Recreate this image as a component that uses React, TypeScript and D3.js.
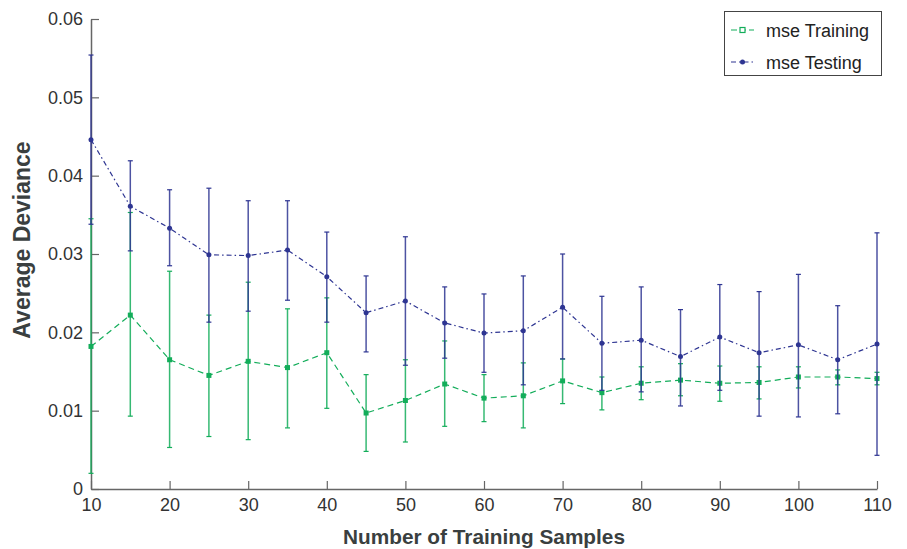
import React, { useEffect, useRef } from "react";
import * as d3 from "d3";

const samples = [10, 15, 20, 25, 30, 35, 40, 45, 50, 55, 60, 65, 70, 75, 80, 85, 90, 95, 100, 105, 110];

const trainMean = [0.0182, 0.0222, 0.0165, 0.0145, 0.0163, 0.0155, 0.0174, 0.0097, 0.0113, 0.0134, 0.0116, 0.0119, 0.0138, 0.0123, 0.0135, 0.0139, 0.0135, 0.0136, 0.0143, 0.0143, 0.0141];
const trainHigh = [0.0345, 0.0353, 0.0278, 0.0222, 0.0264, 0.0230, 0.0244, 0.0146, 0.0165, 0.0189, 0.0146, 0.0161, 0.0166, 0.0143, 0.0156, 0.0160, 0.0157, 0.0156, 0.0156, 0.0152, 0.0149];
const trainLow = [0.0020, 0.0093, 0.0053, 0.0067, 0.0063, 0.0078, 0.0103, 0.0048, 0.0060, 0.0080, 0.0086, 0.0078, 0.0109, 0.0101, 0.0114, 0.0119, 0.0112, 0.0115, 0.0129, 0.0133, 0.0133];

const testMean = [0.0446, 0.0361, 0.0333, 0.0299, 0.0298, 0.0305, 0.0271, 0.0225, 0.0240, 0.0212, 0.0199, 0.0202, 0.0232, 0.0186, 0.0190, 0.0169, 0.0194, 0.0174, 0.0184, 0.0165, 0.0185];
const testHigh = [0.0554, 0.0419, 0.0382, 0.0384, 0.0368, 0.0368, 0.0328, 0.0272, 0.0322, 0.0258, 0.0249, 0.0272, 0.0300, 0.0246, 0.0258, 0.0229, 0.0261, 0.0252, 0.0274, 0.0234, 0.0327];
const testLow = [0.0338, 0.0304, 0.0285, 0.0213, 0.0227, 0.0241, 0.0213, 0.0175, 0.0158, 0.0167, 0.0149, 0.0133, 0.0166, 0.0126, 0.0124, 0.0106, 0.0126, 0.0093, 0.0092, 0.0096, 0.0043];

const xTicks = [10, 20, 30, 40, 50, 60, 70, 80, 90, 100, 110];
const yTicks = [0, 0.01, 0.02, 0.03, 0.04, 0.05, 0.06];

const green = "#13ad5a";
const blue = "#2e3592";

export default function App() {
  const ref = useRef<SVGSVGElement>(null);

  useEffect(() => {
    document.body.style.margin = "0";
    const width = 907;
    const height = 549;
    const svg = d3.select(ref.current).attr("width", width).attr("height", height);
    svg.selectAll("*").remove();

    const xScale = d3.scaleLinear().domain([10, 110]).range([91, 877]);
    const yScale = d3.scaleLinear().domain([0, 0.06]).range([489, 19]);

    const font = "Liberation Sans, Arial, Helvetica, sans-serif";
    const axisColor = "#666";
    const textColor = "#333";

    // axes (ticks point inward)
    const xAxis = svg.append("g").attr("transform", "translate(0, 489)")
      .call(d3.axisBottom(xScale).tickValues(xTicks).tickSizeInner(-8).tickSizeOuter(0).tickPadding(9).tickFormat(d3.format("d")));
    const yAxis = svg.append("g").attr("transform", "translate(91, 0)")
      .call(d3.axisLeft(yScale).tickValues(yTicks).tickSizeInner(-8).tickSizeOuter(0).tickPadding(8).tickFormat(d => d === 0 ? "0" : d3.format(".2f")(d as number)));
    [xAxis, yAxis].forEach(a => {
      a.select(".domain").attr("stroke", axisColor).attr("stroke-width", 1.5);
      a.selectAll(".tick line").attr("stroke", axisColor).attr("stroke-width", 1.2);
      a.selectAll(".tick text").attr("fill", textColor).attr("font-family", font).attr("font-size", 18);
    });

    // axis labels
    svg.append("text").attr("x", 484).attr("y", 544).attr("text-anchor", "middle")
      .attr("font-family", font).attr("font-size", 20.8).attr("font-weight", "bold").attr("fill", "#3a3f3f")
      .text("Number of Training Samples");
    svg.append("text").attr("transform", "translate(30, 240) rotate(-90)").attr("text-anchor", "middle")
      .attr("font-family", font).attr("font-size", 23).attr("font-weight", "bold").attr("fill", "#3a3f3f")
      .text("Average Deviance");

    const series = [
      { name: "mse Training", mean: trainMean, high: trainHigh, low: trainLow, color: green, dash: "6,4", marker: "square" },
      { name: "mse Testing", mean: testMean, high: testHigh, low: testLow, color: blue, dash: "5,3,1.5,3", marker: "dot" },
    ];

    const line = d3.line<number>().x((d, i) => xScale(samples[i])).y(d => yScale(d));

    series.forEach(s => {
      const g = svg.append("g");
      // error bars
      samples.forEach((x, i) => {
        const cx = xScale(x);
        g.append("line").attr("x1", cx).attr("x2", cx).attr("y1", yScale(s.high[i])).attr("y2", yScale(s.low[i]))
          .attr("stroke", s.color).attr("stroke-width", 1.5).attr("stroke-opacity", 0.85);
        [s.high[i], s.low[i]].forEach(v => {
          g.append("line").attr("x1", cx - 2.5).attr("x2", cx + 2.5).attr("y1", yScale(v)).attr("y2", yScale(v))
            .attr("stroke", s.color).attr("stroke-width", 1.2);
        });
      });
      g.append("path").attr("d", line(s.mean)).attr("fill", "none").attr("stroke", s.color)
        .attr("stroke-width", 1.2).attr("stroke-dasharray", s.dash);
      g.selectAll(".m").data(s.mean).join(s.marker === "square" ? "rect" : "circle")
        .each(function (d, i) {
          const el = d3.select(this);
          if (s.marker === "square") {
            el.attr("x", xScale(samples[i]) - 2.5).attr("y", yScale(d) - 2.5).attr("width", 5).attr("height", 5)
              .attr("fill", s.color);
          } else {
            el.attr("cx", xScale(samples[i])).attr("cy", yScale(d)).attr("r", 2.5).attr("fill", s.color);
          }
        });
    });

    // legend
    const legend = svg.append("g");
    legend.append("rect").attr("x", 724.5).attr("y", 11.5).attr("width", 157).attr("height", 64)
      .attr("fill", "white").attr("stroke", "#444").attr("stroke-width", 1);
    series.forEach((s, i) => {
      const y = 30 + i * 32;
      legend.append("line").attr("x1", 731).attr("x2", 754).attr("y1", y).attr("y2", y)
        .attr("stroke", s.color).attr("stroke-width", 1.2).attr("stroke-dasharray", i === 0 ? "6,3" : "5,3,1.5,3");
      if (s.marker === "square") {
        legend.append("rect").attr("x", 740).attr("y", y - 2.5).attr("width", 5).attr("height", 5)
          .attr("fill", "white").attr("stroke", s.color).attr("stroke-width", 1.2);
      } else {
        legend.append("circle").attr("cx", 742.5).attr("cy", y).attr("r", 2.5).attr("fill", s.color);
      }
      legend.append("text").attr("x", 766).attr("y", y + 7).attr("font-family", font).attr("font-size", 18)
        .attr("fill", "#222").text(s.name);
    });
  }, []);

  return (
    <div>
      <svg ref={ref} style={{ display: "block" }}></svg>
    </div>
  );
}
